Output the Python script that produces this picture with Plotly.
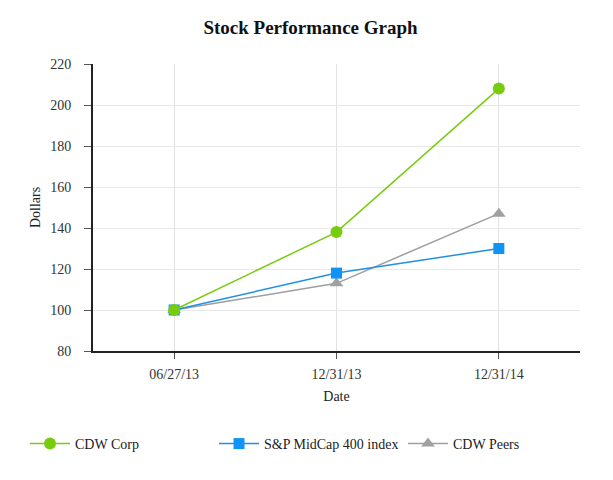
import plotly.graph_objects as go

dates = ["06/27/13", "12/31/13", "12/31/14"]
cdw_corp = [100, 138, 208]
sp_midcap = [100, 118, 130]
cdw_peers = [100, 113, 147]
y_ticks = [80, 100, 120, 140, 160, 180, 200, 220]

FONT = "Liberation Serif, Times New Roman, serif"
W, H = 605, 472
ML, MR, MT, MB = 85, 33, 56, 129
PW, PH = W - ML - MR, H - MT - MB

fig = go.Figure()
fig.add_trace(go.Scatter(x=dates, y=cdw_peers, name="CDW Peers", mode="lines+markers",
                         line=dict(color="#9e9e9e", width=1.5),
                         marker=dict(symbol="triangle-up", size=12, color="#a0a0a0")))
fig.add_trace(go.Scatter(x=dates, y=sp_midcap, name="S&P MidCap 400 index", mode="lines+markers",
                         line=dict(color="#1e90e6", width=1.5),
                         marker=dict(symbol="square", size=11, color="#0f93f5")))
fig.add_trace(go.Scatter(x=dates, y=cdw_corp, name="CDW Corp", mode="lines+markers",
                         line=dict(color="#77cc0f", width=1.5),
                         marker=dict(symbol="circle", size=12, color="#77cc0f")))

fig.update_layout(
    width=W, height=H,
    margin=dict(l=ML, r=MR, t=MT, b=MB),
    paper_bgcolor="white", plot_bgcolor="white",
    font=dict(family=FONT, size=13, color="#222222"),
    title=dict(text="<b>Stock Performance Graph</b>", x=0.5, xanchor="center",
               y=1 - 19 / H, yanchor="middle",
               font=dict(family=FONT, size=19, color="#111111")),
    xaxis=dict(type="category", range=[-0.5, 2.5], showgrid=True, gridcolor="#e2e2e2",
               showline=True, linecolor="#222222", linewidth=2,
               ticks="outside", ticklen=6, tickcolor="#555555", ticklabelstandoff=3,
               title=dict(text="Date", standoff=10, font=dict(family=FONT, size=14, color="#222222")),
               zeroline=False,
               tickfont=dict(family=FONT, size=14, color="#333333")),
    yaxis=dict(range=[80, 220], tickvals=y_ticks, showgrid=True, gridcolor="#e8e8e8",
               showline=True, linecolor="#222222", linewidth=2,
               ticks="outside", ticklen=7, tickcolor="#555555", ticklabelstandoff=10,
               title=dict(text="Dollars", standoff=6, font=dict(family=FONT, size=14, color="#222222")),
               zeroline=False,
               tickfont=dict(family=FONT, size=14, color="#333333")),
    legend=dict(orientation="h", x=(17 - ML) / PW, xanchor="left", xref="paper",
                y=-(436 - (H - MB)) / PH, yref="paper", yanchor="middle",
                traceorder="reversed", itemwidth=40,
                entrywidth=134, entrywidthmode="pixels",
                font=dict(family=FONT, size=14, color="#222222")),
)

fig.write_html("out.html")
